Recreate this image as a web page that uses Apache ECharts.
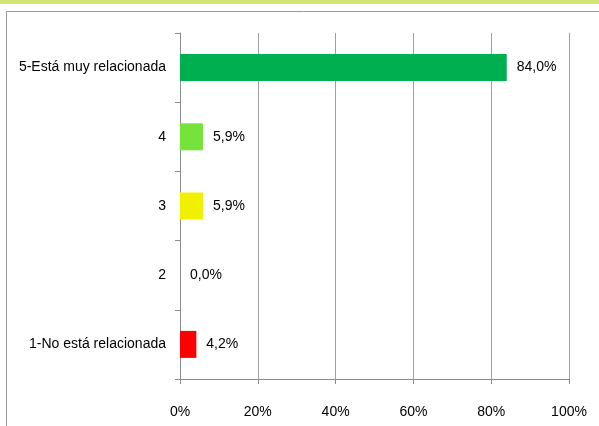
<!DOCTYPE html>
<html><head><meta charset="utf-8">
<script src="https://cdn.jsdelivr.net/npm/echarts@6/dist/echarts.min.js"></script>
<style>html,body{margin:0;padding:0;background:#fff}#c{width:599px;height:426px}</style>
</head><body><div id="c"></div>
<script>
var categories = ['1-No está relacionada', '2', '3', '4', '5-Está muy relacionada'];
var values = [4.2, 0.0, 5.9, 5.9, 84.0];
var barColors = ['#ff0000', '#ff0000', '#f0f000', '#76e33a', '#00b050'];
var tickLabels = ['0%', '20%', '40%', '60%', '80%', '100%'];

var font = "'Liberation Sans Narrow', 'Liberation Sans', sans-serif";
var chart = echarts.init(document.getElementById('c'), null, {renderer: 'canvas'});
chart.setOption({
  animation: false,
  graphic: [
    {type: 'rect', shape: {x: 0, y: 0, width: 599, height: 4}, style: {fill: '#d2e678'}},
    {type: 'rect', shape: {x: 6.5, y: 11.5, width: 620, height: 440}, style: {fill: 'none', stroke: '#9a9a9a', lineWidth: 1}}
  ],
  grid: {left: 180, right: 30, top: 33, bottom: 47, containLabel: false},
  xAxis: {
    type: 'value', min: 0, max: 100, interval: 20,
    axisLine: {show: true, lineStyle: {color: '#8c8c8c'}},
    axisTick: {show: true, length: 5, lineStyle: {color: '#8c8c8c'}},
    splitLine: {show: true, lineStyle: {color: '#a0a0a0'}},
    axisLabel: {
      margin: 26, color: '#000', fontSize: 14, fontFamily: font,
      formatter: function (v) { return tickLabels[Math.round(v / 20)]; }
    }
  },
  yAxis: {
    type: 'category', data: categories,
    axisLine: {show: true, lineStyle: {color: '#8c8c8c'}},
    axisTick: {show: true, length: 5, alignWithLabel: false, lineStyle: {color: '#8c8c8c'}},
    axisLabel: {margin: 14, color: '#000', fontSize: 14, fontFamily: font}
  },
  series: [{
    type: 'bar', barWidth: 27,
    data: values.map(function (v, i) { return {value: v, itemStyle: {color: barColors[i]}}; }),
    label: {
      show: true, position: 'right', distance: 10, color: '#000', fontSize: 14, fontFamily: font,
      formatter: function (p) { return p.value.toFixed(1).replace('.', ',') + '%'; }
    }
  }]
});
</script></body></html>
